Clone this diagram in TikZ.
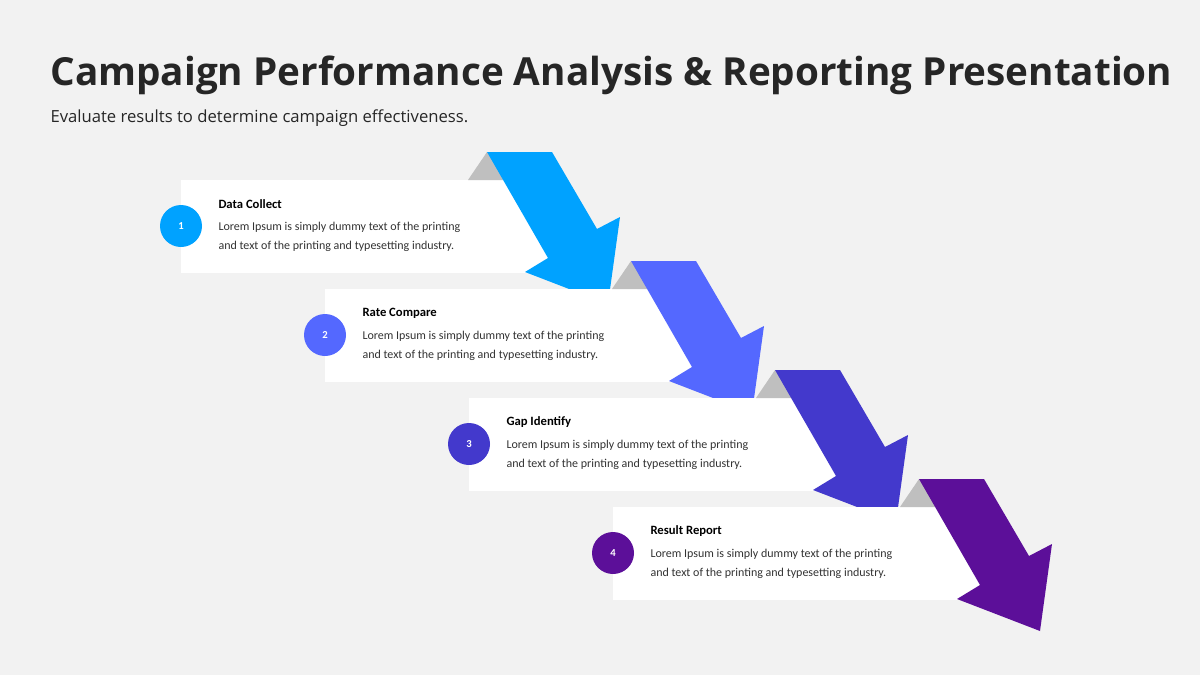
\documentclass[tikz,border=0pt]{standalone}
\usepackage{fontspec}
\setmainfont{Carlito}
\newfontfamily\headfont{Open Sans}
\definecolor{bgc}{HTML}{F2F2F2}
\definecolor{cA}{HTML}{00A2FF}
\definecolor{cB}{HTML}{5468FF}
\definecolor{cC}{HTML}{4339CC}
\definecolor{cD}{HTML}{5C0F99}
\tikzset{every picture/.style={line width=0.75pt}}
\tikzset{
  card/.style={fill=white, draw=none},
  badge/.style={circle, fill=#1, minimum size=31.5pt, inner sep=0pt, text=white, font=\footnotesize\bfseries},
  stepttl/.style={anchor=west, inner sep=0pt, font=\fontsize{9.5}{11}\selectfont\bfseries},
  steptxt/.style={anchor=north west, inner sep=0pt, align=left, font=\fontsize{9}{14.3}\selectfont, text=black!80}
}
\begin{document}
\begin{tikzpicture}[x=0.75pt,y=0.75pt,yscale=-1,xscale=1]
\fill[bgc] (0,0) rectangle (1200,675);
\useasboundingbox (0,0) rectangle (1200,675);

% Title
\node[anchor=west, inner sep=0pt, font=\headfont\fontsize{29}{34}\selectfont\bfseries, text=black!85] (title) at (50,75) {Campaign Performance Analysis \& Reporting Presentation};
\node[anchor=west, inner sep=0pt, font=\headfont\fontsize{12.5}{15}\selectfont, text=black!85] (subtitle) at (50,118) {Evaluate results to determine campaign effectiveness.};

% Steps
\foreach \i/\clr/\name in {0/cA/Data Collect, 1/cB/Rate Compare, 2/cC/Gap Identify, 3/cD/Result Report}{
  \begin{scope}[shift={(144*\i,109*\i)}]
    \fill[card] (181,180) rectangle (550,273);
    \fill[black!25] (468,180) -- (487,152) -- (507,180) -- cycle;
    \fill[\clr] (487,152) -- (552,152) -- (597,229) -- (620,217) -- (608,304) -- (525,272) -- (548,258) -- cycle;
    \node[badge=\clr] (b\i) at (181,226) {\the\numexpr\i+1\relax};
    \node[stepttl] (t\i) at (218,204) {\name};
    \node[steptxt] (d\i) at (218,222) {Lorem Ipsum is simply dummy text of the printing\\and text of the printing and typesetting industry.};
  \end{scope}
}
\end{tikzpicture}
\end{document}
